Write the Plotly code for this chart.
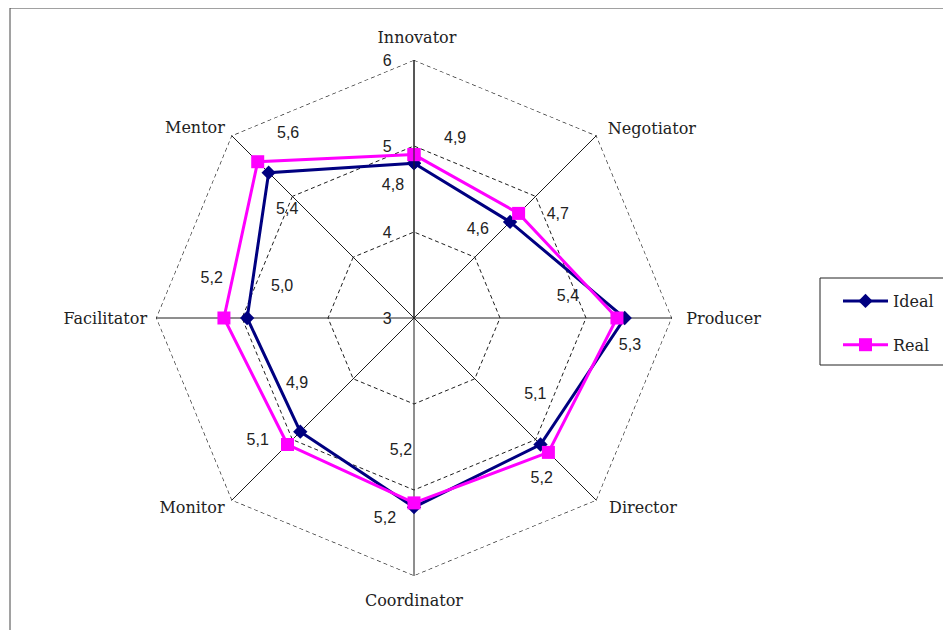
import plotly.graph_objects as go

categories = ["Innovator", "Negotiator", "Producer", "Director",
              "Coordinator", "Monitor", "Facilitator", "Mentor"]
ideal = [4.8, 4.58, 5.45, 5.08, 5.2, 4.87, 4.94, 5.39]
real = [4.9, 4.72, 5.36, 5.21, 5.15, 5.08, 5.21, 5.57]
ideal_labels = ["4,8", "4,6", "5,4", "5,1", "5,2", "4,9", "5,0", "5,4"]
real_labels = ["4,9", "4,7", "5,3", "5,2", "5,2", "5,1", "5,2", "5,6"]
radial_ticks = [3, 4, 5, 6]

# label placement (polar r, angle in degrees clockwise from top)
ideal_label_r = [4.58, 4.28, 4.81, 4.66, 4.53, 4.55, 4.58, 4.95]
ideal_label_theta = [351.1, 35.4, 81.5, 121.8, 185.7, 241.3, 284.0, 310.9]
real_label_r = [5.16, 5.07, 5.53, 5.37, 5.34, 5.30, 5.40, 5.61]
real_label_theta = [12.8, 53.9, 96.9, 141.2, 188.3, 232.2, 281.5, 325.9]
cat_label_r = [6.27, 6.54, 6.6, 6.45, 6.28, 6.39, 6.59, 6.38]
cat_label_theta = [0.6, 51.4, 90, 129.5, 180, 229.6, 270, 311.1]

W, H = 951, 630
OX, OY = 8, 8  # page body margin
cx, cy, R = 414 - OX, 318 - OY, 258
TEXT_DY = 2  # text baseline compensation
RMIN, RMAX, RMAX2 = 3, 6, 6.6
R2 = R * (RMAX2 - RMIN) / (RMAX - RMIN)


def px(x):
    return x / W


def py(y):
    return 1 - y / H


def domain(rad, dy=0):
    return dict(x=[px(cx - rad), px(cx + rad)],
                y=[max(0, py(cy + dy + rad)), min(1, py(cy + dy - rad))])


grid = "#1e1e1e"
theta_closed = categories + [categories[0]]

fig = go.Figure()
# outer (max) dashed octagon of the radial grid
fig.add_trace(go.Scatterpolar(
    r=[radial_ticks[-1]] * len(theta_closed), theta=theta_closed, mode="lines",
    line=dict(color=grid, width=1.2, dash="4px,3px"),
    showlegend=False, hoverinfo="skip", cliponaxis=False,
))
fig.add_trace(go.Scatterpolar(
    r=ideal + [ideal[0]], theta=theta_closed, mode="lines+markers",
    name="Ideal", legendgroup="a",
    line=dict(color="#000080", width=3),
    marker=dict(symbol="diamond", size=11, color="#000080"),
))
fig.add_trace(go.Scatterpolar(
    r=real + [real[0]], theta=theta_closed, mode="lines+markers",
    name="Real", legendgroup="b",
    line=dict(color="#FF00FF", width=3),
    marker=dict(symbol="square", size=13, color="#FF00FF"),
))
lab_font = dict(family="Liberation Sans", size=16, color="#222")
fig.add_trace(go.Scatterpolar(
    r=ideal_label_r, theta=ideal_label_theta, mode="text", text=ideal_labels,
    showlegend=False, hoverinfo="skip", subplot="polar2", textfont=lab_font,
    cliponaxis=False,
))
fig.add_trace(go.Scatterpolar(
    r=real_label_r, theta=real_label_theta, mode="text", text=real_labels,
    showlegend=False, hoverinfo="skip", subplot="polar2", textfont=lab_font,
    cliponaxis=False,
))
fig.add_trace(go.Scatterpolar(
    r=radial_ticks, theta=[0] * len(radial_ticks), mode="text",
    text=[f"{t}\u00a0\u00a0\u00a0\u00a0\u00a0" for t in radial_ticks],
    textposition="middle left",
    showlegend=False, hoverinfo="skip", subplot="polar2", textfont=lab_font,
    cliponaxis=False,
))
fig.add_trace(go.Scatterpolar(
    r=cat_label_r, theta=cat_label_theta, mode="text", text=categories,
    showlegend=False, hoverinfo="skip", subplot="polar2",
    textfont=dict(family="DejaVu Serif", size=16, color="#222"),
    cliponaxis=False,
))

fig.update_layout(
    width=W, height=H,
    margin=dict(l=0, r=0, t=0, b=0),
    paper_bgcolor="white",
    polar=dict(
        domain=domain(R),
        bgcolor="white",
        gridshape="linear",
        angularaxis=dict(
            rotation=90, direction="clockwise",
            showline=False, gridcolor=grid, gridwidth=1,
            ticks="", showticklabels=False,
        ),
        radialaxis=dict(
            range=[RMIN, RMAX], tickmode="array", tickvals=radial_ticks,
            angle=90, showticklabels=False,
            showline=True, linecolor=grid, linewidth=1,
            gridcolor=grid, griddash="4px,3px", gridwidth=1.2,
            ticks="",
        ),
    ),
    polar2=dict(
        domain=domain(R2, TEXT_DY),
        bgcolor="rgba(0,0,0,0)",
        angularaxis=dict(
            type="linear", rotation=90, direction="clockwise", thetaunit="degrees",
            visible=False, showgrid=False, showline=False,
        ),
        radialaxis=dict(range=[RMIN, RMAX2], visible=False, showgrid=False,
                        showline=False),
    ),
    legend=dict(
        x=px(843 - 5 - OX), y=py(300 - 16 - OY), xanchor="left", yanchor="top",
        traceorder="grouped", tracegroupgap=20, itemwidth=45,
        font=dict(family="DejaVu Serif", size=16, color="#222"),
        bgcolor="rgba(0,0,0,0)",
    ),
    shapes=[
        dict(type="rect", xref="paper", yref="paper",
             x0=px(10 - OX), x1=1.05, y0=-0.05, y1=py(8 - OY),
             line=dict(color="#444", width=1)),
        dict(type="rect", xref="paper", yref="paper",
             x0=px(820 - OX), x1=px(950 - OX), y0=py(365 - OY), y1=py(278 - OY),
             line=dict(color="#222", width=1)),
    ],
)

fig.write_html("out.html")
